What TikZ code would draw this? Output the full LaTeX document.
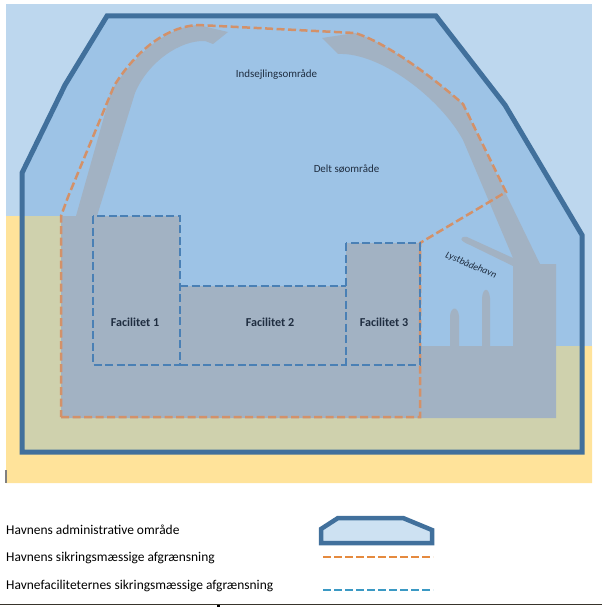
\documentclass[tikz,border=0pt]{standalone}
\usepackage{fontspec}
\setmainfont{Carlito}
\definecolor{waterout}{HTML}{BDD7EE}
\definecolor{waterin}{HTML}{9DC3E6}
\definecolor{sandout}{HTML}{FFE39A}
\definecolor{sandin}{HTML}{CFD1AD}
\definecolor{land}{HTML}{A2B2C3}
\definecolor{adminline}{HTML}{41709C}
\definecolor{portline}{HTML}{D39169}
\definecolor{facline}{HTML}{4A80B5}
\definecolor{txt}{HTML}{1F2D40}
\tikzset{
  adminbound/.style={draw=adminline,line width=5pt,miter limit=10},
  portbound/.style={draw=portline,line width=2.5pt,dash pattern=on 8pt off 3.5pt},
  facbound/.style={draw=facline,line width=2.5pt,dash pattern=on 8pt off 3.5pt},
  maptext/.style={text=txt,font=\fontsize{10.95}{12}\selectfont,inner sep=0pt},
  factext/.style={text=txt,font=\fontsize{12.1}{14}\bfseries\selectfont,inner sep=0pt},
  legendtext/.style={text=black,font=\fontsize{13.45}{15}\selectfont,inner sep=0pt,anchor=west},
}
\begin{document}
\begin{tikzpicture}[x=1pt,y=-1pt]
\useasboundingbox (0,0) rectangle (602,607);
% base
\fill[white] (0,0) rectangle (602,607);
\fill[waterout] (6,4) rectangle (592,346);
\fill[sandout] (6,216) -- (180,216) -- (180,346) -- (592,346) -- (592,483) -- (6,483) -- cycle;
% inside the administrative area
\begin{scope}
  \clip (107,16) -- (436,16) -- (505,105) -- (582,235) -- (582,452) -- (22,452) -- (22,173) -- (65,85) -- cycle;
  \fill[waterin] (6,4) rectangle (592,346);
  \fill[sandin] (6,216) -- (180,216) -- (180,346) -- (592,346) -- (592,483) -- (6,483) -- cycle;
\end{scope}
% land and channels
\fill[land] (61,216) -- (76,216)
  -- (111,92) .. controls (125,68) and (160,27) .. (198,25)
  -- (228,32) -- (213,44) -- (205,41)
  .. controls (180,40) and (148,62) .. (135,93)
  -- (97,216) -- (180,216) -- (180,286) -- (346,286) -- (346,243) -- (420,243)
  -- (420,346) -- (450,346) -- (450,316) .. controls (451,306) and (458,306) .. (459,316)
  -- (459,346) -- (482,346) -- (482,298) .. controls (483,287) and (489,287) .. (490,298)
  -- (490,346) -- (513,346) -- (513,266) -- (470,245)
  .. controls (459,241) and (459,236) .. (467,237)
  -- (513,258) -- (463,140)
  .. controls (440,98) and (380,52) .. (338,54)
  -- (322,38) -- (355,33)
  .. controls (385,42) and (430,75) .. (463,104)
  -- (505,192) -- (540,264) -- (556,264) -- (556,418) -- (61,418) -- cycle;
% boundaries
\path[adminbound] (107,16) -- (436,16) -- (505,105) -- (582,235) -- (582,452) -- (22,452) -- (22,173) -- (65,85) -- cycle;
\path[portbound] (61,417) -- (420,417) -- (420,243) -- (506,192) -- (463,104)
  .. controls (430,75) and (385,42) .. (355,33) -- (198,25)
  .. controls (160,27) and (130,60) .. (114,86) -- (68,197) -- (61,216) -- cycle;
\path[facbound] (93,216) rectangle (180,365);
\path[facbound] (180,286) -- (346,286);
\path[facbound] (180,365) -- (346,365);
\path[facbound] (346,243) rectangle (420,365);
% labels
\node[maptext] (ind) at (276.5,75) {Indsejlingsområde};
\node[maptext] (delt) at (346.5,169) {Delt søområde};
\node[maptext,font=\fontsize{9.8}{11}\itshape\selectfont,rotate=-23] (lyst) at (471,265.5) {Lystbådehavn};
\node[factext] (f1) at (135,322) {Facilitet 1};
\node[factext] (f2) at (270,322.5) {Facilitet 2};
\node[factext] (f3) at (384,322) {Facilitet 3};
% stray marks
\fill[gray] (5,470) rectangle (6.5,483);
\fill[black!80!olive] (0,604) rectangle (602,605);
\fill[black] (217,605) rectangle (220,607);
% legend
\node[legendtext] (l1) at (6,530) {Havnens administrative område};
\node[legendtext] (l2) at (6,557.5) {Havnens sikringsmæssige afgrænsning};
\node[legendtext] (l3) at (6,585.5) {Havnefaciliteternes sikringsmæssige afgrænsning};
\path[draw=adminline,line width=4.5pt,fill=waterout!75!white] (321,543) -- (321,529) -- (338,518) -- (403,518) -- (432,530) -- (432,543) -- cycle;
\path[draw=portline!60!orange,line width=2.5pt,dash pattern=on 8pt off 3pt] (323,557) -- (433,557);
\path[draw=facline!80!cyan,line width=2.5pt,dash pattern=on 8pt off 3pt] (323,590) -- (433,590);
\end{tikzpicture}
\end{document}
